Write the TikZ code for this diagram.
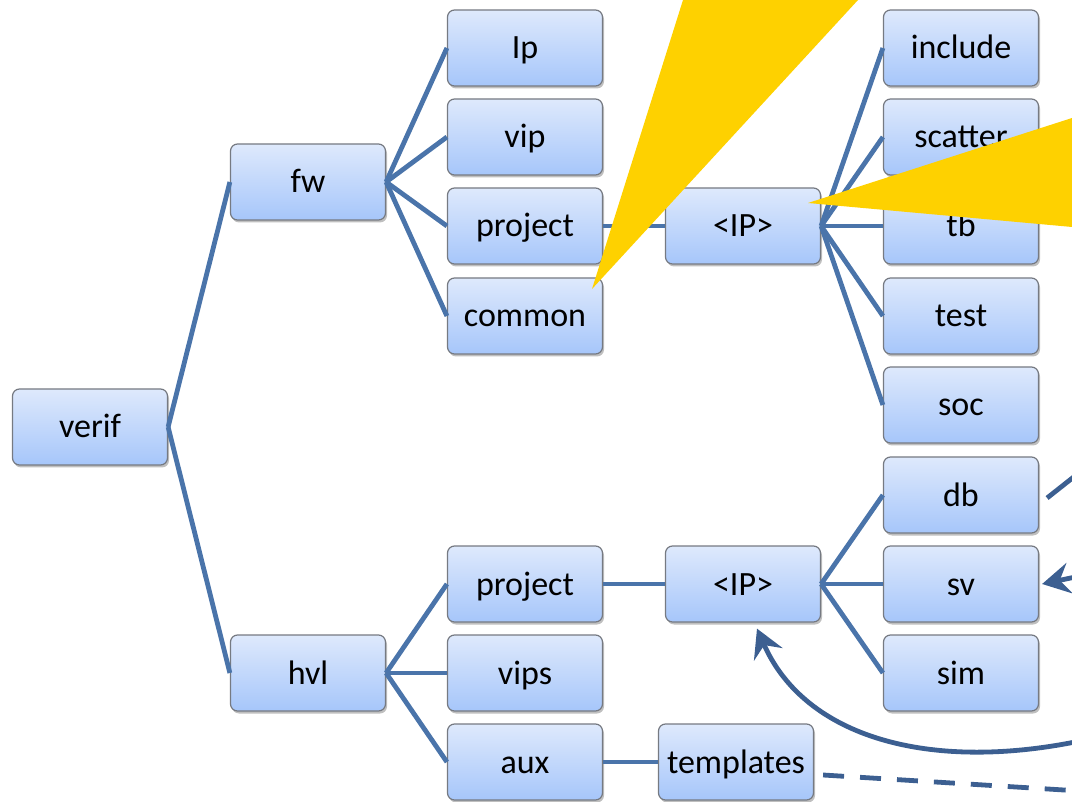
\documentclass[tikz,border=0pt]{standalone}
\usepackage{fontspec}
\setmainfont{Carlito}
\usetikzlibrary{shadows,arrows.meta,calc}
\definecolor{boxtop}{RGB}{222,233,252}
\definecolor{boxbot}{RGB}{166,198,250}
\definecolor{boxline}{RGB}{118,122,130}
\definecolor{conncol}{RGB}{74,116,170}
\definecolor{arrcol}{RGB}{60,95,145}
\definecolor{callout}{RGB}{254,209,0}
\tikzset{
  box/.style={draw=boxline, line width=1.2pt, rounded corners=7pt,
    minimum width=155pt, minimum height=76pt, inner sep=0pt,
    text height=26pt, text depth=4pt,
    top color=boxtop, bottom color=boxbot,
    font=\fontsize{34}{40}\selectfont, text=black,
    drop shadow={shadow xshift=1.5pt, shadow yshift=-2.5pt, fill=black, opacity=0.25}},
  conn/.style={draw=conncol, line width=4.8pt},
  arr/.style={draw=arrcol, line width=4.8pt},
  arrhead/.style={-{Stealth[length=28pt,width=31pt,inset=10pt]}},
  calloutfill/.style={fill=callout, draw=none}
}
\begin{document}
\begin{tikzpicture}[x=1pt,y=-1pt]
\useasboundingbox (0,0) rectangle (1072,802);
\clip (0,0) rectangle (1072,802);
% nodes
\node[box] (verif) at (90,427) {verif};
\node[box] (fw) at (308,182) {fw};
\node[box] (hvl) at (308,673) {hvl};
\node[box] (ipn) at (525,48) {Ip};
\node[box] (vip) at (525,137) {vip};
\node[box] (proj1) at (525,226) {project};
\node[box] (common) at (525,316) {common};
\node[box] (proj2) at (525,584) {project};
\node[box] (vips) at (525,673) {vips};
\node[box] (aux) at (525,762) {aux};
\node[box] (ip1) at (743,226) {<IP>};
\node[box] (ip2) at (743,584) {<IP>};
\node[box] (templates) at (736,762) {templates};
\node[box] (include) at (961,48) {include};
\node[box] (scatter) at (961,137) {scatter};
\node[box] (tb) at (961,226) {tb};
\node[box] (test) at (961,316) {test};
\node[box] (soc) at (961,405) {soc};
\node[box] (db) at (961,495) {db};
\node[box] (sv) at (961,584) {sv};
\node[box] (sim) at (961,673) {sim};
% tree connectors
\foreach \a/\b in {verif/fw, verif/hvl, fw/ipn, fw/vip, fw/proj1, fw/common,
  hvl/proj2, hvl/vips, hvl/aux, proj1/ip1, proj2/ip2, aux/templates,
  ip1/include, ip1/scatter, ip1/tb, ip1/test, ip1/soc,
  ip2/db, ip2/sv, ip2/sim}
  \draw[conn] (\a.east) -- (\b.west);
% extra arrows at right
\coordinate (dbstart) at ($(db.east)+(8,3)$);
\coordinate (dbend) at (1080,472);
\draw[arr] (dbstart) -- (dbend);
\coordinate (svsrc) at (1085,575);
\draw[arr,arrhead] (svsrc) -- ($(sv.east)+(3,0)$);
\coordinate (cursrc) at (1080,741);
\coordinate (curtip) at ($(ip2.south)+(14,6)$);
\draw[arr,arrhead] (cursrc) .. controls (930,772) and (805,738) .. (curtip);
\coordinate (dashstart) at ($(templates.east)+(9,13)$);
\coordinate (dashend) at (1080,791);
\draw[arr,dash pattern=on 21pt off 16pt] (dashstart) -- (dashend);
% callouts
\coordinate (c1apex) at (592,289);
\fill[calloutfill] (c1apex) -- (683,0) -- (858,0) -- cycle;
\coordinate (c2apex) at (808,203);
\fill[calloutfill] (c2apex) -- (1072,118) -- (1072,227) -- cycle;
\end{tikzpicture}
\end{document}
